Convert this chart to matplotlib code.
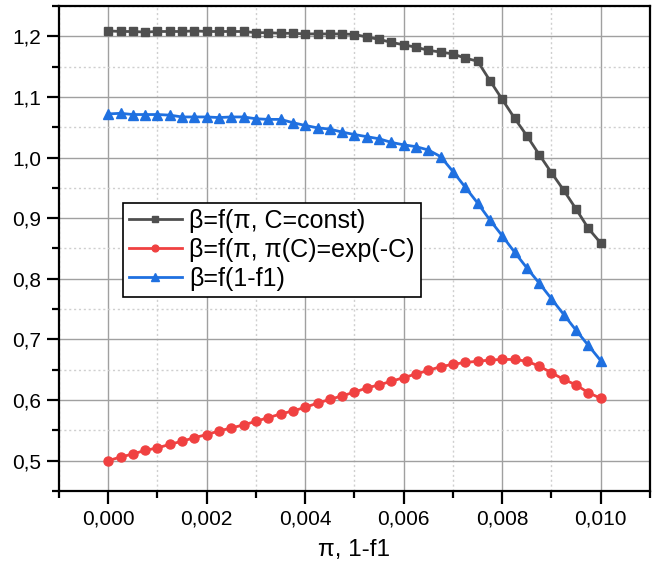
import matplotlib
matplotlib.use("Agg")
import matplotlib.pyplot as plt
from matplotlib.ticker import MultipleLocator, FuncFormatter

plt.rcParams['font.family'] = ['Liberation Sans', 'DejaVu Sans']

x = [i * 0.00025 for i in range(41)]

beta_const = [1.209, 1.208, 1.208, 1.207, 1.208, 1.208, 1.208, 1.209, 1.208, 1.208,
              1.208, 1.208, 1.206, 1.206, 1.205, 1.205, 1.204, 1.204, 1.204, 1.204,
              1.203, 1.199, 1.195, 1.190, 1.186, 1.182, 1.177, 1.174, 1.171, 1.164,
              1.159, 1.127, 1.096, 1.065, 1.036, 1.005, 0.975, 0.946, 0.915, 0.883,
              0.859]

beta_exp = [0.500, 0.506, 0.511, 0.517, 0.521, 0.527, 0.532, 0.538, 0.543, 0.549,
            0.554, 0.559, 0.565, 0.571, 0.577, 0.582, 0.588, 0.595, 0.601, 0.607,
            0.613, 0.620, 0.625, 0.631, 0.637, 0.643, 0.649, 0.655, 0.659, 0.662,
            0.664, 0.666, 0.667, 0.667, 0.664, 0.656, 0.645, 0.634, 0.625, 0.612,
            0.603]

beta_f1 = [1.072, 1.073, 1.071, 1.071, 1.071, 1.070, 1.067, 1.067, 1.067, 1.066,
           1.067, 1.067, 1.064, 1.063, 1.063, 1.0575, 1.053, 1.049, 1.047, 1.042,
           1.038, 1.0345, 1.031, 1.025, 1.021, 1.018, 1.0125, 1.0015, 0.977, 0.951,
           0.925, 0.897, 0.871, 0.844, 0.818, 0.793, 0.767, 0.741, 0.715, 0.690,
           0.665]

labels = ['β=f(π, C=const)', 'β=f(π, π(C)=exp(-C)', 'β=f(1-f1)']
colors = ['#4f4f4f', '#f04141', '#1f70e0']

fig = plt.figure(figsize=(6.59, 5.68), dpi=100)
ax = fig.add_axes([0.0895, 0.1356, 0.8968, 0.8538])

ax.plot(x, beta_const, color=colors[0], lw=2, marker='s', ms=6, label=labels[0], zorder=3)
ax.plot(x, beta_exp, color=colors[1], lw=2, marker='o', ms=6.5, label=labels[1], zorder=3)
ax.plot(x, beta_f1, color=colors[2], lw=2, marker='^', ms=7, label=labels[2], zorder=3)

ax.set_xlim(-0.001, 0.011)
ax.set_ylim(0.45, 1.25)
ax.xaxis.set_major_locator(MultipleLocator(0.002))
ax.xaxis.set_minor_locator(MultipleLocator(0.001))
ax.yaxis.set_major_locator(MultipleLocator(0.1))
ax.yaxis.set_minor_locator(MultipleLocator(0.05))
ax.xaxis.set_major_formatter(FuncFormatter(lambda v, p: f"{v:.3f}".replace('.', ',').replace('-0,000', '0,000')))
ax.yaxis.set_major_formatter(FuncFormatter(lambda v, p: f"{v:.1f}".replace('.', ',')))

ax.grid(which='major', color='#a0a0a0', lw=1, ls='-', zorder=0)
ax.grid(which='minor', color='#cfcfcf', lw=1, ls=(0, (1.5, 2)), zorder=0)
ax.set_axisbelow(True)

for s in ax.spines.values():
    s.set_linewidth(1.6)
    s.set_color('black')
ax.tick_params(which='major', direction='out', length=9, width=1.6, labelsize=15, pad=4)
ax.tick_params(which='minor', direction='out', length=5, width=1.6)

ax.set_xlabel('π, 1-f1', fontsize=17.5, labelpad=8)

leg = ax.legend(loc='upper left', bbox_to_anchor=(0.108, 0.594), borderaxespad=0,
                fontsize=18, frameon=True, fancybox=False, framealpha=1,
                edgecolor='black', handlelength=2.1, handletextpad=0.3,
                labelspacing=0.2, borderpad=0.25, markerscale=0.75)
leg.get_frame().set_linewidth(1.2)

fig.savefig('out.png', dpi=100)
